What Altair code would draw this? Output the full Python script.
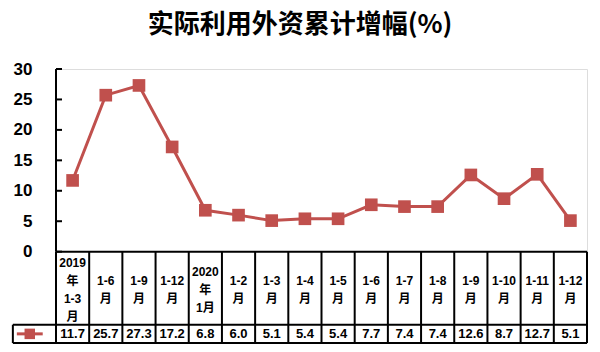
import altair as alt
import pandas as pd

categories = ["2019\n年\n1-3\n月", "1-6\n月", "1-9\n月", "1-12\n月", "2020\n年\n1月",
              "1-2\n月", "1-3\n月", "1-4\n月", "1-5\n月", "1-6\n月", "1-7\n月",
              "1-8\n月", "1-9\n月", "1-10\n月", "1-11\n月", "1-12\n月"]
values = [11.7, 25.7, 27.3, 17.2, 6.8, 6.0, 5.1, 5.4, 5.4, 7.7, 7.4, 7.4, 12.6, 8.7, 12.7, 5.1]
y_ticks = [0, 5, 10, 15, 20, 25, 30]

RED = "#C0504D"
FONT = "Liberation Sans, Noto Sans CJK SC"
n = len(categories)
PX_PER_UNIT = 274 / 45.0
LINE_H = 18 / PX_PER_UNIT
CAT_CENTER = -6.3

df = pd.DataFrame({
    "pos": [i + 0.5 for i in range(n)],
    "value": values,
    "vtext": [f"{v:.1f}" for v in values],
})

rows = []
for i, lab in enumerate(categories):
    parts = lab.split("\n")
    m = len(parts)
    for k, p in enumerate(parts):
        rows.append({"pos": i + 0.5, "txt": p,
                     "ly": CAT_CENTER + ((m - 1) / 2 - k) * LINE_H})
cat_df = pd.DataFrame(rows)

xs = alt.Scale(domain=[0, n], nice=False, zero=False)
ys = alt.Scale(domain=[-15, 30], nice=False, zero=False)
yax = alt.Axis(values=y_ticks, domain=False, ticks=False, tickSize=0, grid=False,
               labelFontSize=17, labelFontWeight="bold", labelFont="Liberation Sans",
               labelColor="black", labelPadding=24, title=None)


def X(f):
    return alt.X(f, scale=xs, axis=None)


def Y(f):
    return alt.Y(f, scale=ys, axis=yax)


line = alt.Chart(df).mark_line(color=RED, strokeWidth=3).encode(x=X("pos:Q"), y=Y("value:Q"))
points = alt.Chart(df).mark_square(color=RED, size=160, opacity=1).encode(x=X("pos:Q"), y=Y("value:Q"))

tick_df = pd.DataFrame({"t": y_ticks})
ticks = alt.Chart(tick_df).mark_rule(color="black", strokeWidth=2).encode(
    y=Y("t:Q"), x=alt.value(0), x2=alt.value(6),
)

# table grid lines
legend_left = -1.3
edges = pd.DataFrame({"e": list(range(n + 1)), "y": [0] * (n + 1), "y2": [-15] * (n + 1)})
vlines = alt.Chart(edges).mark_rule(color="black", strokeWidth=2).encode(
    x=X("e:Q"), y=Y("y:Q"), y2="y2:Q",
)
hl = pd.DataFrame({
    "x": [0, legend_left, legend_left, 0, legend_left],
    "x2": [n, n, n, 0, legend_left],
    "y": [0, -12, -15, 0, -12],
    "y2": [0, -12, -15, 30, -15],
})
hlines = alt.Chart(hl).mark_rule(color="black", strokeWidth=2).encode(
    x=X("x:Q"), x2="x2:Q", y=Y("y:Q"), y2="y2:Q",
)

cat_text = alt.Chart(cat_df).mark_text(
    font=FONT, fontSize=12, fontWeight="bold", baseline="middle", align="center", color="black",
).encode(x=X("pos:Q"), y=Y("ly:Q"), text="txt:N")

df["vy"] = -13.5
val_text = alt.Chart(df).mark_text(
    font=FONT, fontSize=13, fontWeight="bold", baseline="middle", align="center", color="black",
).encode(x=X("pos:Q"), y=Y("vy:Q"), text="vtext:N")

# legend glyph in the value row
lg = pd.DataFrame({"x": [-1.18], "x2": [-0.4], "xm": [-0.79], "y": [-13.5]})
lg_line = alt.Chart(lg).mark_rule(color=RED, strokeWidth=3).encode(
    x=X("x:Q"), x2="x2:Q", y=Y("y:Q"),
)
lg_pt = alt.Chart(lg).mark_square(color=RED, size=110, opacity=1).encode(
    x=X("xm:Q"), y=Y("y:Q"),
)

chart = alt.layer(line, points, ticks, vlines, hlines, cat_text, val_text, lg_line, lg_pt).properties(
    width=531, height=274,
    autosize=alt.AutoSizeParams(type="none"),
    padding={"left": 56, "top": 69, "right": 13, "bottom": 9},
    title=alt.TitleParams(
        "实际利用外资累计增幅(%)", anchor="middle", dx=-21.5, fontSize=26,
        fontWeight="bold", font="Noto Sans CJK SC", color="black", offset=22,
    ),
).configure_view(stroke=None).configure(background="white")

chart.save("out.html", embed_options={"renderer": "svg", "actions": False})
